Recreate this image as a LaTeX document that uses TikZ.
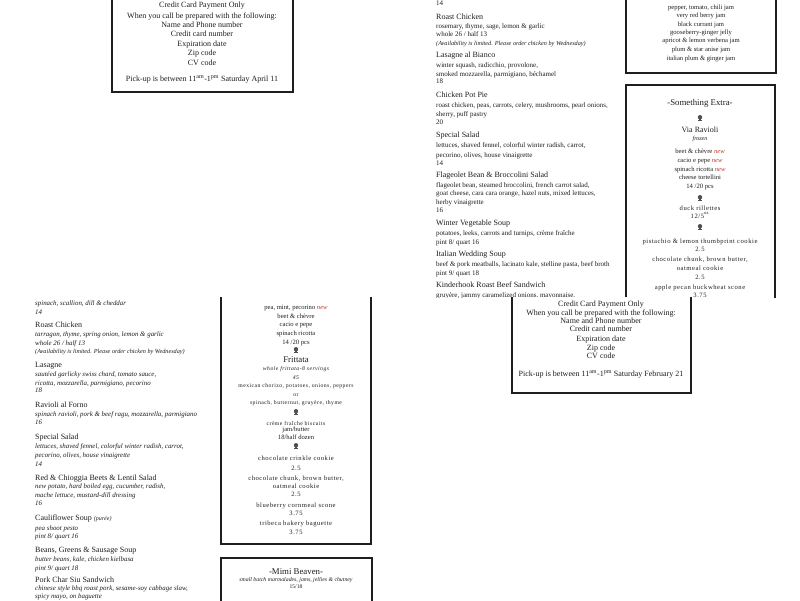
\documentclass[tikz,border=0pt]{standalone}
\usepackage{fontspec}
\setmainfont{Liberation Serif}
\newfontfamily\widefont[LetterSpace=8]{Liberation Serif}
\definecolor{newRed}{RGB}{185,60,45}
\definecolor{inkGray}{RGB}{30,30,30}
\definecolor{ornGray}{RGB}{80,80,80}
\newcommand{\nw}{\textcolor{newRed}{\textit{new}}}

\begin{document}
\begin{tikzpicture}
[x=1pt,y=-1pt,
  boxDecorate/.style={draw=inkGray,line width=1.6pt,fill=white},%
  headDecorate/.style={anchor=base west,inner sep=0pt,text=inkGray,font=\fontsize{8}{9}\selectfont},%
  descDecorate/.style={anchor=base west,inner sep=0pt,text=inkGray,font=\fontsize{7}{8}\selectfont},%
  italDecorate/.style={descDecorate,font=\fontsize{6.9}{8}\selectfont\itshape},%
  noteDecorate/.style={descDecorate,font=\fontsize{6.2}{7}\selectfont\itshape},%
  midDecorate/.style={anchor=base,inner sep=0pt,text=inkGray,font=\fontsize{8}{9}\selectfont},%
  jamDecorate/.style={anchor=base,inner sep=0pt,text=inkGray,font=\fontsize{6.6}{8}\selectfont},%
  wideDecorate/.style={anchor=base,inner sep=0pt,text=inkGray,font=\widefont\fontsize{6.6}{8}\selectfont},%
  smallWide/.style={wideDecorate,font=\widefont\fontsize{5.7}{7}\selectfont},%
  wideItal/.style={wideDecorate,font=\widefont\fontsize{5.7}{7}\selectfont\itshape},%
  titleDecorate/.style={anchor=base,inner sep=0pt,text=inkGray,font=\fontsize{8.8}{10}\selectfont},%
  smallItal/.style={anchor=base,inner sep=0pt,text=inkGray,font=\fontsize{6}{7}\selectfont\itshape},%
  tinyDecorate/.style={anchor=base,inner sep=0pt,text=inkGray,font=\fontsize{5.8}{7}\selectfont\itshape},%
  ornPic/.pic={\fill[ornGray] (0,-0.8) circle (2.2);
    \fill[ornGray] (-0.6,1) rectangle (0.6,2.4);
    \fill[ornGray] (-1.6,2.2) rectangle (1.6,2.9);}]
\useasboundingbox[fill=white] (0,0) rectangle (800,600);

%% upper half
\begin{scope}
\clip (0,0) rectangle (800,297);
%% pick-up box, April
\path[boxDecorate] (112,-5) rectangle (293,92);
\foreach \nodename/\y/\txt in {
  a1/7/Credit Card Payment Only, a2/18/{When you call be prepared with the following:},
  a3/27/Name and Phone number, a4/36/Credit card number, a5/46/Expiration date,
  a6/55/Zip code, a7/65/CV code,
  a8/81/{Pick-up is between 11\textsuperscript{am}-1\textsuperscript{pm} Saturday April 11}}
{
  \node (\nodename) at (202,\y) [midDecorate] {\txt};
}
%% menu column
\foreach \nodename/\y/\sty/\txt in {
  b1/5/descDecorate/14,
  b2/19/headDecorate/Roast Chicken,
  b3/28/descDecorate/{rosemary, thyme, sage, lemon \& garlic},
  b4/36/descDecorate/{whole 26 / half 13},
  b5/45/noteDecorate/{(Availability is limited. Please order chicken by Wednesday)},
  b6/57/headDecorate/Lasagne al Bianco,
  b7/67/descDecorate/{winter squash, radicchio, provolone,},
  b8/76/descDecorate/{smoked mozzarella, parmigiano, béchamel},
  b9/83/descDecorate/18,
  b10/97/headDecorate/Chicken Pot Pie,
  b11/107/descDecorate/{roast chicken, peas, carrots, celery, mushrooms, pearl onions,},
  b12/116/descDecorate/{sherry, puff pastry},
  b13/124/descDecorate/20,
  b14/137/headDecorate/Special Salad,
  b15/147/descDecorate/{lettuces, shaved fennel, colorful winter radish, carrot,},
  b16/157/descDecorate/{pecorino, olives, house vinaigrette},
  b17/165/descDecorate/14,
  b18/177/headDecorate/{Flageolet Bean \& Broccolini Salad},
  b19/187/descDecorate/{flageolet bean, steamed broccolini, french carrot salad,},
  b20/195/descDecorate/{goat cheese, cara cara orange, hazel nuts, mixed lettuces,},
  b21/204/descDecorate/herby vinaigrette,
  b22/212/descDecorate/16,
  b23/225/headDecorate/Winter Vegetable Soup,
  b24/235/descDecorate/{potatoes, leeks, carrots and turnips, crème fraîche},
  b25/244/descDecorate/{pint 8/ quart 16},
  b26/256/headDecorate/Italian Wedding Soup,
  b27/266/descDecorate/{beef \& pork meatballs, lacinato kale, stelline pasta, beef broth},
  b28/275/descDecorate/{pint 9/ quart 18},
  b29/287/headDecorate/Kinderhook Roast Beef Sandwich,
  b30/297/descDecorate/{gruyère, jammy caramelized onions, mayonnaise,}}
{
  \node (\nodename) at (436,\y) [\sty] {\txt};
}
%% jam box
\path[boxDecorate] (626,-5) rectangle (776,73);
\foreach \nodename/\y/\txt in {
  c1/9/{pepper, tomato, chili jam}, c2/17/very red berry jam, c3/26/black currant jam,
  c4/34/gooseberry-ginger jelly, c5/42/apricot \& lemon verbena jam,
  c6/51/plum \& star anise jam, c7/60/italian plum \& ginger jam}
{
  \node (\nodename) at (701,\y) [jamDecorate] {\txt};
}
%% something extra box
\path[boxDecorate] (626,85) rectangle (775,310);
\foreach \nodename/\y/\sty/\txt in {
  d1/105/titleDecorate/-Something Extra-,
  d2/132/midDecorate/Via Ravioli,
  d3/140/smallItal/frozen,
  d4/153/jamDecorate/{beet \& chèvre \nw},
  d5/162/jamDecorate/{cacio e pepe \nw},
  d6/171/jamDecorate/{spinach ricotta \nw},
  d7/179/jamDecorate/cheese tortellini,
  d8/188/jamDecorate/{14 /20 pcs},
  d9/210/wideDecorate/duck rillettes,
  d10/218/wideDecorate/{12/5\textsuperscript{oz}},
  d11/243/wideDecorate/{pistachio \& lemon thumbprint cookie},
  d12/251/wideDecorate/2.5,
  d13/261/wideDecorate/{chocolate chunk, brown butter,},
  d14/270/wideDecorate/oatmeal cookie,
  d15/279/wideDecorate/2.5,
  d16/289/wideDecorate/apple pecan buckwheat scone,
  d17/297/wideDecorate/3.75}
{
  \node (\nodename) at (700,\y) [\sty] {\txt};
}
\foreach \y in {118,198,227}
  \pic at (700,\y) {ornPic};
\end{scope}

%% lower half
\begin{scope}
\clip (0,297) rectangle (800,600);
%% pick-up box, February
\path[boxDecorate] (512,285) rectangle (691,393);
\foreach \nodename/\y/\txt in {
  e1/306/Credit Card Payment Only, e2/315/{When you call be prepared with the following:},
  e3/323/Name and Phone number, e4/331/Credit card number, e5/341/Expiration date,
  e6/350/Zip code, e7/358/CV code,
  e8/376/{Pick-up is between 11\textsuperscript{am}-1\textsuperscript{pm} Saturday February 21}}
{
  \node (\nodename) at (601,\y) [midDecorate] {\txt};
}
%% menu column
\foreach \nodename/\y/\sty/\txt in {
  f1/305/italDecorate/{spinach, scallion, dill \& cheddar},
  f2/314/italDecorate/14,
  f3/327/headDecorate/Roast Chicken,
  f4/336/italDecorate/{tarragon, thyme, spring onion, lemon \& garlic},
  f5/345/italDecorate/{whole 26 / half 13},
  f6/353/noteDecorate/{(Availability is limited. Please order chicken by Wednesday)},
  f7/367/headDecorate/Lasagne,
  f8/376/italDecorate/{sautéed garlicky swiss chard, tomato sauce,},
  f9/385/italDecorate/{ricotta, mozzarella, parmigiano, pecorino},
  f10/392/italDecorate/18,
  f11/407/headDecorate/Ravioli al Forno,
  f12/416/italDecorate/{spinach ravioli, pork \& beef ragu, mozzarella, parmigiano},
  f13/424/italDecorate/16,
  f14/439/headDecorate/Special Salad,
  f15/448/italDecorate/{lettuces, shaved fennel, colorful winter radish, carrot,},
  f16/457/italDecorate/{pecorino, olives, house vinaigrette},
  f17/466/italDecorate/14,
  f18/480/headDecorate/{Red \& Chioggia Beets \& Lentil Salad},
  f19/488/italDecorate/{new potato, hard boiled egg, cucumber, radish,},
  f20/497/italDecorate/{mache lettuce, mustard-dill dressing},
  f21/505/italDecorate/16,
  f22/520/headDecorate/{Cauliflower Soup {\fontsize{6}{7}\selectfont\itshape(purée)}},
  f23/530/italDecorate/pea shoot pesto,
  f24/538/italDecorate/{pint 8/ quart 16},
  f25/552/headDecorate/{Beans, Greens \& Sausage Soup},
  f26/561/italDecorate/{butter beans, kale, chicken kielbasa},
  f27/570/italDecorate/{pint 9/ quart 18},
  f28/582/headDecorate/Pork Char Siu Sandwich,
  f29/590/italDecorate/{chinese style bbq roast pork, sesame-soy cabbage slaw,},
  f30/598.3/italDecorate/{spicy mayo, on baguette}}
{
  \node (\nodename) at (35,\y) [\sty] {\txt};
}
%% ravioli and frittata box
\path[boxDecorate] (221,285) rectangle (371,544);
\foreach \nodename/\y/\sty/\txt in {
  g1/309/jamDecorate/{pea, mint, pecorino \nw},
  g2/318/jamDecorate/{beet \& chèvre},
  g3/326/jamDecorate/cacio e pepe,
  g4/335/jamDecorate/spinach ricotta,
  g5/344/jamDecorate/{14 /20 pcs},
  g6/362/titleDecorate/Frittata,
  g7/370/wideItal/whole frittata-8 servings,
  g8/379/wideItal/45,
  g9/387/smallWide/{mexican chorizo, potatoes, onions, peppers},
  g10/396/smallWide/or,
  g11/404/smallWide/{spinach, butternut, gruyère, thyme},
  g12/425/smallWide/crème fraîche biscuits,
  g13/431/jamDecorate/{jam/butter},
  g14/439/jamDecorate/{18/half dozen},
  g15/460/wideDecorate/chocolate crinkle cookie,
  g16/470/wideDecorate/2.5,
  g17/480/wideDecorate/{chocolate chunk, brown butter,},
  g18/488/wideDecorate/oatmeal cookie,
  g19/496/wideDecorate/2.5,
  g20/507/wideDecorate/blueberry cornmeal scone,
  g21/515/wideDecorate/3.75,
  g22/525/wideDecorate/tribeca bakery baguette,
  g23/534/wideDecorate/3.75}
{
  \node (\nodename) at (296,\y) [\sty] {\txt};
}
\foreach \y in {350,412,446}
  \pic at (296,\y) {ornPic};
%% jam maker box
\path[boxDecorate] (221,558) rectangle (372,610);
\node (h1) at (296,574) [titleDecorate] {-Mimi Beaven-};
\node (h2) at (296,581) [tinyDecorate] {small batch marmalades, jams, jellies \& chutney};
\node (h3) at (296,588) [tinyDecorate,font=\fontsize{5.6}{6}\selectfont] {15/18};
\end{scope}
\end{tikzpicture}
\end{document}
